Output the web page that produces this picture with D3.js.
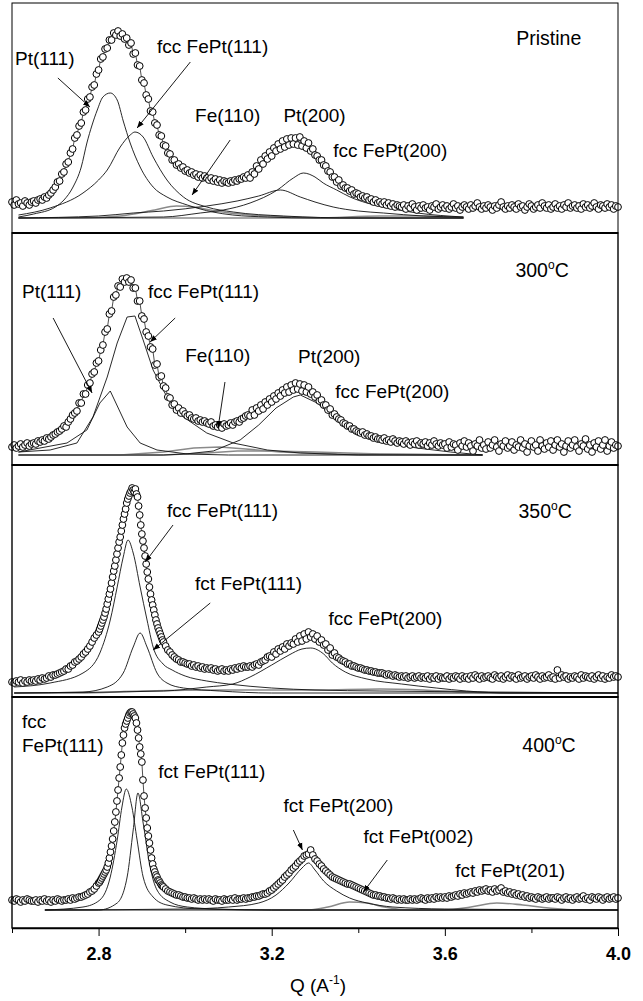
<!DOCTYPE html>
<html>
<head>
<meta charset="utf-8">
<script src="https://cdn.jsdelivr.net/npm/d3@7"></script>
<style>
  body { margin: 0; background: #fff; }
  text { font-family: "Liberation Sans", Arial, sans-serif; }
</style>
</head>
<body>
<div id="container"></div>
<script>
// measured intensity, one value every 0.005 from Q = 2.600 to 4.000 (281 values)
const qStart = 2.6;
const qStep = 0.005;
// extra points read on the steep flanks (Q = 2.8025 ... 2.9475)
const halfStart = 2.8025;

const pristineY = [
  31, 28, 33, 29, 30, 27, 32, 30, 28, 31,
  32, 30, 33, 34, 33, 36, 35, 38, 40, 43,
  46, 51, 52, 59, 61, 69, 71, 80, 84, 95,
  98, 107, 110, 121, 123, 134, 136, 146, 148, 159,
  163, 174, 176, 184, 185, 193, 193, 200, 198, 202,
  197, 199, 194, 195, 188, 190, 179, 180, 168, 167,
  153, 150, 138, 134, 122, 121, 110, 108, 98, 97,
  88, 87, 80, 79, 73, 73, 68, 69, 65, 66,
  62, 63, 60, 61, 58, 59, 56, 58, 55, 57,
  55, 53, 55, 52, 54, 51, 53, 50, 52, 51,
  50, 52, 51, 53, 52, 54, 54, 56, 55, 58,
  55, 61, 59, 67, 64, 73, 69, 77, 74, 81,
  77, 85, 82, 89, 84, 92, 86, 94, 88, 95,
  89, 95, 88, 96, 87, 92, 85, 90, 82, 84,
  78, 77, 73, 73, 68, 67, 62, 61, 56, 56,
  51, 53, 47, 48, 45, 45, 42, 43, 39, 40,
  39, 36, 37, 35, 36, 33, 34, 31, 33, 30,
  31, 29, 31, 28, 30, 27, 29, 26, 28, 27,
  26, 28, 24, 27, 25, 29, 26, 23, 27, 25,
  28, 25, 26, 23, 27, 26, 29, 24, 26, 28,
  25, 27, 24, 26, 29, 25, 27, 23, 26, 28,
  26, 24, 28, 25, 27, 30, 26, 24, 27, 25,
  28, 26, 23, 27, 25, 28, 31, 26, 24, 27,
  25, 28, 26, 24, 29, 26, 27, 23, 26, 29,
  27, 24, 26, 28, 25, 30, 27, 25, 28, 24,
  26, 29, 25, 27, 24, 28, 26, 30, 25, 27,
  28, 25, 27, 24, 29, 26, 28, 25, 27, 30,
  26, 24, 28, 27, 25, 29, 26, 28, 24, 27,
  26
];

const t300Y = [
  18, 20, 17, 19, 21, 18, 20, 22, 19, 21,
  22, 21, 24, 23, 25, 24, 27, 26, 28, 30,
  31, 33, 34, 36, 39, 38, 43, 46, 50, 52,
  54, 62, 62, 71, 71, 80, 82, 91, 93, 102,
  104, 115, 120, 133, 136, 151, 154, 168, 170, 179,
  178, 186, 183, 187, 183, 185, 177, 177, 164, 164,
  149, 146, 133, 129, 118, 116, 100, 101, 88, 89,
  79, 77, 68, 67, 60, 61, 55, 57, 52, 54,
  51, 49, 50, 47, 46, 47, 44, 45, 43, 44,
  42, 41, 43, 39, 40, 38, 40, 37, 41, 39,
  40, 42, 40, 43, 44, 43, 46, 47, 49, 50,
  49, 55, 50, 57, 54, 60, 56, 63, 60, 66,
  63, 69, 66, 72, 69, 75, 72, 78, 73, 80,
  75, 82, 76, 81, 74, 80, 73, 78, 71, 73,
  68, 70, 64, 65, 60, 60, 55, 56, 50, 51,
  48, 46, 45, 42, 41, 39, 39, 36, 36, 34,
  33, 32, 33, 30, 31, 29, 29, 27, 28, 26,
  26, 25, 27, 24, 25, 23, 26, 24, 22, 24,
  23, 21, 24, 22, 20, 23, 21, 24, 20, 22,
  21, 23, 19, 22, 20, 24, 21, 19, 22, 20,
  21, 17, 23, 18, 21, 20, 15, 22, 19, 24,
  18, 22, 19, 14, 21, 19, 25, 17, 20, 16,
  23, 17, 20, 25, 18, 14, 21, 19, 24, 17,
  19, 23, 15, 20, 18, 25, 17, 21, 13, 19,
  24, 18, 20, 14, 25, 19, 16, 22, 18, 24,
  15, 20, 25, 18, 21, 13, 19, 24, 17, 20,
  25, 18, 14, 21, 19, 26, 16, 20, 13, 22,
  18, 24, 16, 20, 25, 14, 19, 23, 17, 20,
  19
];

const t350Y = [
  15, 14, 16, 15, 17, 14, 16, 15, 17, 16,
  17, 16, 18, 17, 19, 18, 19, 21, 20, 22,
  22, 23, 24, 25, 26, 28, 28, 31, 32, 35,
  36, 38, 40, 43, 45, 48, 51, 55, 59, 62,
  65, 71, 77, 84, 93, 103, 114, 126, 137, 149,
  160, 172, 183, 194, 201, 206, 207, 208, 200, 182,
  163, 149, 133, 118, 103, 92, 82, 73, 66, 60,
  55, 51, 47, 45, 42, 40, 38, 37, 35, 35,
  34, 33, 33, 31, 32, 30, 31, 29, 30, 28,
  29, 28, 29, 27, 28, 26, 27, 28, 26, 27,
  26, 28, 27, 29, 28, 30, 29, 31, 30, 30,
  31, 30, 32, 33, 32, 35, 36, 37, 40, 41,
  40, 45, 43, 48, 46, 50, 48, 53, 51, 54,
  53, 58, 55, 61, 56, 63, 58, 65, 60, 63,
  58, 61, 55, 57, 52, 53, 47, 49, 42, 44,
  40, 39, 37, 36, 35, 33, 33, 31, 31, 30,
  29, 29, 28, 27, 27, 26, 26, 25, 25, 24,
  24, 24, 23, 22, 23, 22, 21, 22, 21, 20,
  21, 20, 21, 19, 20, 21, 19, 20, 21, 19,
  20, 19, 21, 18, 20, 19, 21, 18, 20, 19,
  19, 21, 18, 20, 19, 21, 20, 18, 21, 19,
  20, 18, 21, 19, 22, 20, 18, 21, 19, 20,
  21, 19, 18, 22, 20, 19, 21, 18, 20, 22,
  19, 21, 20, 18, 22, 19, 20, 21, 18, 20,
  21, 19, 22, 20, 18, 21, 19, 20, 22, 19,
  20, 18, 27, 19, 22, 20, 21, 18, 20, 19,
  21, 20, 18, 22, 19, 21, 20, 19, 21, 18,
  20, 22, 19, 21, 18, 20, 19, 22, 20, 21,
  20
];
const t350Half = [
  68, 74, 80, 88, 98, 108, 120, 131, 143, 155,
  166, 178, 188, 198, 204, 209, 205, 203, 191, 172,
  156, 141, 125, 110, 97, 87, 77, 69, 63, 57
];

const t400Y = [
  28, 27, 29, 28, 26, 28, 27, 29, 28, 27,
  27, 28, 26, 28, 27, 29, 27, 28, 26, 28,
  27, 29, 28, 27, 28, 28, 29, 28, 30, 29,
  30, 31, 31, 32, 33, 34, 36, 37, 39, 42,
  45, 48, 52, 56, 61, 70, 82, 97, 116, 138,
  161, 185, 200, 207, 213, 216, 214, 210, 198, 181,
  166, 132, 110, 92, 78, 64, 56, 51, 47, 43,
  41, 39, 37, 36, 35, 34, 33, 33, 32, 31,
  31, 30, 30, 29, 30, 29, 28, 29, 28, 29,
  28, 29, 28, 27, 29, 28, 28, 27, 29, 28,
  28, 29, 28, 30, 28, 29, 29, 30, 29, 30,
  30, 31, 31, 32, 32, 33, 34, 34, 35, 37,
  38, 40, 42, 44, 46, 48, 51, 53, 55, 58,
  60, 62, 65, 67, 69, 72, 73, 74, 78, 73,
  69, 67, 64, 62, 59, 57, 55, 53, 51, 50,
  49, 48, 47, 46, 45, 44, 44, 43, 42, 41,
  40, 39, 38, 37, 36, 35, 34, 33, 33, 32,
  32, 31, 31, 30, 30, 29, 30, 29, 28, 29,
  28, 29, 28, 28, 29, 28, 29, 28, 29, 30,
  29, 28, 30, 29, 30, 29, 31, 30, 31, 30,
  31, 30, 32, 31, 32, 33, 32, 34, 33, 35,
  34, 35, 36, 35, 37, 36, 38, 37, 38, 39,
  37, 38, 36, 39, 37, 38, 40, 36, 37, 35,
  36, 34, 35, 33, 34, 32, 33, 31, 32, 30,
  31, 30, 29, 31, 30, 29, 30, 31, 29, 30,
  30, 29, 31, 30, 28, 30, 31, 29, 30, 28,
  30, 31, 29, 30, 32, 29, 30, 28, 31, 30,
  29, 31, 30, 28, 30, 31, 29, 30, 31, 29,
  30
];
const t400Half = [
  46, 50, 54, 58, 65, 76, 89, 106, 127, 150,
  173, 193, 204, 210, 215, 216, 212, 205, 190, 174,
  148, 120, 100, 85, 70, 59, 53, 48, 45, 42
];

// fitted components, [Q, intensity]
const pristinePt111 = [[2.615,16],[2.65,19],[2.70,26],[2.72,33],[2.741,46],[2.76,66],[2.773,90],[2.785,108],[2.797,123],[2.81,136],[2.827,140],[2.843,133],[2.857,112],[2.873,90],[2.896,66],[2.926,46],[2.958,36],[3.005,28],[3.064,21],[3.11,18],[3.19,16],[3.30,15],[3.643,15]];
const pristineFcc111 = [[2.615,18],[2.688,25],[2.764,40],[2.80,53],[2.82,63],[2.85,86],[2.873,98],[2.884,101],[2.903,96],[2.926,76],[2.958,53],[2.996,36],[3.05,26],[3.111,21],[3.227,17],[3.40,15],[3.643,15]];
const pristineFe110 = [[2.615,15],[2.75,15],[2.85,17],[2.93,23],[2.98,27],[3.02,26],[3.07,22],[3.15,18],[3.25,16],[3.35,15],[3.643,15]];
const pristinePt200 = [[2.615,15],[2.80,17],[2.88,20],[2.95,22],[3.05,27],[3.12,32],[3.17,37],[3.22,43],[3.266,36],[3.30,31],[3.342,26],[3.40,22],[3.458,20],[3.55,17],[3.643,16]];
const pristineFcc200 = [[2.615,15],[2.95,16],[3.035,20],[3.088,23],[3.15,30],[3.213,43],[3.25,55],[3.273,60],[3.30,56],[3.319,50],[3.35,43],[3.381,36],[3.42,30],[3.458,26],[3.536,20],[3.643,16]];
const pristineBg = [[2.615,15],[3.30,15],[3.45,17],[3.55,17],[3.643,15]];

const t300Pt111 = [[2.615,13],[2.727,22],[2.773,35],[2.803,62],[2.827,74],[2.866,38],[2.896,22],[2.935,15],[3.005,11],[3.10,10],[3.687,10]];
const t300Fcc111 = [[2.615,13],[2.688,15],[2.75,22],[2.787,48],[2.82,88],[2.843,122],[2.866,148],[2.884,149],[2.903,125],[2.926,95],[2.958,68],[2.996,48],[3.05,32],[3.111,22],[3.19,15],[3.266,12],[3.40,10],[3.687,10]];
const t300Fe110 = [[2.615,10],[2.85,10],[2.95,13],[3.02,17],[3.08,18],[3.14,16],[3.22,13],[3.35,11],[3.687,10]];
const t300Pt200 = [[2.615,10],[2.95,10],[3.05,12],[3.12,14],[3.20,14],[3.30,13],[3.45,11],[3.687,10]];
const t300Fcc200 = [[2.615,10],[2.95,10],[3.00,11],[3.065,14],[3.127,25],[3.17,40],[3.21,57],[3.25,68],[3.266,70],[3.305,62],[3.342,48],[3.381,35],[3.42,27],[3.458,22],[3.536,17],[3.613,13],[3.687,10]];

const t350Fcc111 = [[2.605,10],[2.688,14],[2.764,24],[2.803,44],[2.827,77],[2.843,110],[2.857,140],[2.868,157],[2.88,144],[2.896,110],[2.912,77],[2.926,50],[2.949,33],[2.97,27],[3.00,21],[3.05,16],[3.10,13],[3.2,9],[3.3,7],[3.45,6],[3.7,5],[4.0,4]];
const t350Fct111 = [[2.605,4],[2.764,5],[2.82,10],[2.857,24],[2.88,50],[2.896,64],[2.912,50],[2.935,24],[2.958,14],[2.996,9],[3.08,6],[3.2,4],[4.0,4]];
const t350Fcc200 = [[2.605,4],[2.95,6],[3.05,10],[3.11,13],[3.15,20],[3.20,32],[3.24,42],[3.27,48],[3.29,49],[3.32,43],[3.34,34],[3.37,25],[3.42,18],[3.50,13],[3.58,9],[3.65,6],[3.75,4],[4.0,4]];
const t350Bg = [[2.605,4],[2.75,4],[2.90,6],[3.10,7],[3.30,7],[3.45,8],[3.55,7],[3.65,5],[3.75,4],[4.0,4]];

const t400Fcc111 = [[2.676,18],[2.764,21],[2.803,28],[2.827,51],[2.843,88],[2.854,121],[2.864,139],[2.877,121],[2.889,88],[2.903,51],[2.926,31],[2.958,23],[3.035,19],[3.2,18],[4.0,18]];
const t400Fct111 = [[2.676,18],[2.80,18],[2.843,25],[2.866,51],[2.88,98],[2.891,135],[2.903,105],[2.919,61],[2.935,38],[2.965,26],[3.005,21],[3.074,19],[3.2,18],[4.0,18]];
const t400Fct200 = [[2.676,18],[3.0,19],[3.1,21],[3.17,25],[3.21,33],[3.24,45],[3.27,60],[3.285,65],[3.30,58],[3.32,47],[3.35,37],[3.38,30],[3.42,25],[3.48,21],[3.6,19],[4.0,18]];
const t400Fct002 = [[2.676,18],[3.28,18],[3.33,21],[3.38,26],[3.42,25],[3.46,21],[3.52,18],[4.0,18]];
const t400Fct201 = [[2.676,18],[3.6,18],[3.66,21],[3.72,25],[3.78,23],[3.84,20],[3.9,18],[4.0,18]];

const majorTicks = [2.8, 3.2, 3.6, 4.0];
const minorTicks = [2.6, 3.0, 3.4, 3.8];

const width = 643;
const height = 1001;
const xLeft = 12, xRight = 618;
const panelTops = [3, 233, 465, 697];
const panelBottoms = [233, 465, 697, 928];

const svg = d3.select("#container")
    .append("svg")
    .attr("width", width)
    .attr("height", height);

const x = d3.scaleLinear().domain([2.6, 4.0]).range([xLeft, xRight]);

svg.append("defs").append("marker")
    .attr("id", "arrow")
    .attr("viewBox", "0 0 10 10")
    .attr("refX", 10).attr("refY", 5)
    .attr("markerWidth", 7).attr("markerHeight", 7)
    .attr("markerUnits", "userSpaceOnUse")
    .attr("orient", "auto")
    .append("path")
    .attr("d", "M0,1 L10,5 L0,9 z")
    .attr("fill", "#000");

function toPoints(vals, start) {
    return vals.map((v, i) => ({ q: start + i * qStep, v: v }));
}

const panels = [
    {
        data: toPoints(pristineY, qStart), half: [],
        comps: [
            { pts: pristineBg, gray: true }, { pts: pristineFe110, gray: true },
            { pts: pristinePt111 }, { pts: pristineFcc111 },
            { pts: pristinePt200 }, { pts: pristineFcc200 }
        ],
        curve: d3.curveMonotoneX,
        labels: [
            { t: "Pt(111)", q: 2.607, v: 168 },
            { t: "fcc FePt(111)", q: 2.935, v: 180 },
            { t: "Fe(110)", q: 3.023, v: 111 },
            { t: "Pt(200)", q: 3.227, v: 111 },
            { t: "fcc FePt(200)", q: 3.342, v: 76 }
        ],
        arrows: [
            [2.706, 155, 2.780, 126], [3.012, 171, 2.889, 105], [3.104, 93, 3.016, 38]
        ],
        title: { t: "Pristine", q: 3.765, v: 188 }
    },
    {
        data: toPoints(t300Y, qStart), half: [],
        comps: [
            { pts: t300Fe110, gray: true }, { pts: t300Pt200, gray: true },
            { pts: t300Pt111 }, { pts: t300Fcc111 }, { pts: t300Fcc200 }
        ],
        curve: d3.curveLinear,
        labels: [
            { t: "Pt(111)", q: 2.623, v: 167 },
            { t: "fcc FePt(111)", q: 2.914, v: 167 },
            { t: "Fe(110)", q: 3.0, v: 103 },
            { t: "Pt(200)", q: 3.261, v: 102 },
            { t: "fcc FePt(200)", q: 3.347, v: 67 }
        ],
        arrows: [
            [2.695, 147, 2.785, 72], [2.977, 147, 2.919, 123], [3.092, 83, 3.076, 37]
        ],
        title: { t: "300", deg: true, q: 3.763, v: 188 }
    },
    {
        data: toPoints(t350Y, qStart), half: toPoints(t350Half, halfStart),
        comps: [
            { pts: t350Bg, gray: true },
            { pts: t350Fcc111 }, { pts: t350Fct111 }, { pts: t350Fcc200 }
        ],
        curve: d3.curveMonotoneX,
        labels: [
            { t: "fcc FePt(111)", q: 2.958, v: 180 },
            { t: "fct FePt(111)", q: 3.023, v: 107 },
            { t: "fcc FePt(200)", q: 3.331, v: 72 }
        ],
        arrows: [
            [2.972, 172, 2.908, 135], [3.058, 94, 2.926, 47]
        ],
        title: { t: "350", deg: true, q: 3.770, v: 179 }
    },
    {
        data: toPoints(t400Y, qStart), half: toPoints(t400Half, halfStart),
        comps: [
            { pts: t400Fct002, gray: true }, { pts: t400Fct201, gray: true },
            { pts: t400Fcc111 }, { pts: t400Fct111 }, { pts: t400Fct200 }
        ],
        curve: d3.curveMonotoneX,
        labels: [
            { t: "fcc", q: 2.623, v: 200 },
            { t: "FePt(111)", q: 2.623, v: 176 },
            { t: "fct FePt(111)", q: 2.938, v: 150 },
            { t: "fct FePt(200)", q: 3.227, v: 116 },
            { t: "fct FePt(002)", q: 3.412, v: 85 },
            { t: "fct FePt(201)", q: 3.624, v: 51 }
        ],
        arrows: [
            [3.250, 98, 3.271, 78], [3.467, 68, 3.412, 36]
        ],
        title: { t: "400", deg: true, q: 3.779, v: 176 }
    }
];

panels.forEach((p, i) => {
    const y = d3.scaleLinear().domain([0, 230]).range([panelBottoms[i], panelBottoms[i] - 230]);
    const g = svg.append("g").attr("class", "panel");

    const compLine = d3.line()
        .x(d => x(d[0]))
        .y(d => y(d[1]))
        .curve(p.curve);

    g.selectAll(".comp")
        .data(p.comps)
        .enter().append("path")
        .attr("class", "comp")
        .attr("d", d => compLine(d.pts))
        .attr("fill", "none")
        .attr("stroke", d => d.gray ? "#8a8a8a" : "#111")
        .attr("stroke-width", d => d.gray ? 1.6 : 0.9);

    // all measured points, sorted by Q
    const pts = p.data.concat(p.half).sort((a, b) => a.q - b.q);

    g.append("path")
        .attr("d", d3.line().x(d => x(d.q)).y(d => y(d.v))(pts))
        .attr("fill", "none")
        .attr("stroke", "#222")
        .attr("stroke-width", 0.8);

    g.selectAll("circle")
        .data(pts)
        .enter().append("circle")
        .attr("cx", d => x(d.q))
        .attr("cy", d => y(d.v))
        .attr("r", 3.4)
        .attr("fill", "#fff")
        .attr("stroke", "#000")
        .attr("stroke-width", 1);

    g.selectAll(".arrow")
        .data(p.arrows)
        .enter().append("line")
        .attr("class", "arrow")
        .attr("x1", d => x(d[0])).attr("y1", d => y(d[1]))
        .attr("x2", d => x(d[2])).attr("y2", d => y(d[3]))
        .attr("stroke", "#000")
        .attr("stroke-width", 0.9)
        .attr("marker-end", "url(#arrow)");

    g.selectAll(".lbl")
        .data(p.labels)
        .enter().append("text")
        .attr("class", "lbl")
        .attr("x", d => x(d.q))
        .attr("y", d => y(d.v))
        .attr("font-size", "19px")
        .text(d => d.t);

    const title = g.append("text")
        .attr("x", x(p.title.q))
        .attr("y", y(p.title.v))
        .attr("font-size", "19.5px");
    title.append("tspan").text(p.title.t);
    if (p.title.deg) {
        title.append("tspan").attr("font-size", "12px").attr("dy", "-8").text("o");
        title.append("tspan").attr("dy", "8").text("C");
    }

    // panel frame
    g.append("rect")
        .attr("x", xLeft).attr("y", panelTops[i])
        .attr("width", xRight - xLeft).attr("height", panelBottoms[i] - panelTops[i])
        .attr("fill", "none")
        .attr("stroke", "#000")
        .attr("stroke-width", i === 0 ? 1 : 1.4);
});

// separators between panels a little heavier
svg.selectAll(".sep")
    .data(panelBottoms.slice(0, 3))
    .enter().append("line")
    .attr("x1", xLeft).attr("x2", xRight)
    .attr("y1", d => d).attr("y2", d => d)
    .attr("stroke", "#000")
    .attr("stroke-width", 2);

const axisY = panelBottoms[3];
svg.append("g")
    .attr("transform", `translate(0,${axisY})`)
    .call(d3.axisBottom(x).tickValues(minorTicks).tickSize(5).tickSizeOuter(0).tickFormat(""))
    .call(g => g.select(".domain").remove());

const xAxis = svg.append("g")
    .attr("transform", `translate(0,${axisY})`)
    .call(d3.axisBottom(x).tickValues(majorTicks).tickSize(8).tickSizeOuter(0).tickFormat(d3.format(".1f")));
xAxis.select(".domain").attr("stroke-width", 1.4);
xAxis.selectAll(".tick text")
    .attr("font-size", "18px")
    .attr("font-weight", "bold")
    .attr("font-family", "'Liberation Sans', Arial, sans-serif")
    .attr("fill", "#000")
    .attr("y", 19)
    .attr("dy", "0.71em");

const axisTitle = svg.append("text")
    .attr("x", (x(2.6) + x(4.0)) / 2 + 3)
    .attr("y", 992)
    .attr("text-anchor", "middle")
    .attr("font-size", "19px");
axisTitle.append("tspan").text("Q (A");
axisTitle.append("tspan").attr("font-size", "12px").attr("dy", "-8").text("-1");
axisTitle.append("tspan").attr("dy", "8").text(")");
</script>
</body>
</html>
